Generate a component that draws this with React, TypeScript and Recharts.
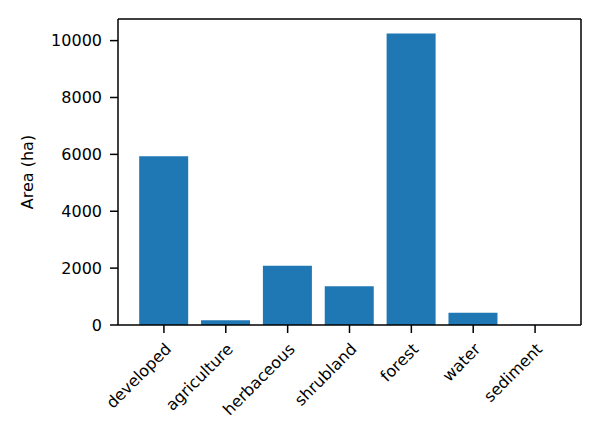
import React from 'react';
import { BarChart, Bar, XAxis, YAxis } from 'recharts';

const landCover = ['developed', 'agriculture', 'herbaceous', 'shrubland', 'forest', 'water', 'sediment'];
const areaHa = [5930, 170, 2085, 1360, 10250, 430, 5];
const yTicks = [0, 2000, 4000, 6000, 8000, 10000];

const data = landCover.map((name, i) => ({ name, area: areaHa[i] }));

const FONT = 'DejaVu Sans, sans-serif';

function RotatedTick(props: any) {
  const { x, y, payload } = props;
  return (
    <g transform={`translate(${x + 5},${y + 12})`}>
      <text
        transform="rotate(-45)"
        textAnchor="end"
        dominantBaseline="middle"
        fontFamily={FONT}
        fontSize={16}
        fill="#000"
      >
        {payload.value}
      </text>
    </g>
  );
}

export default function App() {
  return (
    <div style={{ position: 'absolute', left: 0, top: 0, width: 600, height: 444, background: '#fff' }}>
      <BarChart
        width={600}
        height={444}
        data={data}
        margin={{ top: 18, right: 18, left: 0, bottom: 0 }}
        barCategoryGap="10%"
      >
        <XAxis
          dataKey="name"
          height={119}
          interval={0}
          padding={{ left: 15, right: 15 }}
          stroke="#000"
          strokeWidth={1.5}
          tickSize={8}
          tick={<RotatedTick />}
        />
        <XAxis
          xAxisId="top"
          orientation="top"
          dataKey="name"
          height={1}
          tick={false}
          tickLine={false}
          stroke="#000"
          strokeWidth={1.5}
        />
        <YAxis
          width={118}
          domain={[0, 10760]}
          ticks={yTicks}
          allowDataOverflow
          stroke="#000"
          strokeWidth={1.5}
          tickSize={8}
          tickMargin={8}
          tick={{ fontFamily: FONT, fontSize: 16, fill: '#000' }}
          label={{
            value: 'Area (ha)',
            angle: -90,
            position: 'insideLeft',
            offset: 27,
            style: { fontFamily: FONT, fontSize: 16, fill: '#000', textAnchor: 'middle' },
          }}
        />
        <YAxis
          yAxisId="right"
          orientation="right"
          width={1}
          domain={[0, 10760]}
          tick={false}
          tickLine={false}
          stroke="#000"
          strokeWidth={1.5}
        />
        <Bar dataKey="area" fill="#1f77b4" isAnimationActive={false} />
      </BarChart>
    </div>
  );
}
